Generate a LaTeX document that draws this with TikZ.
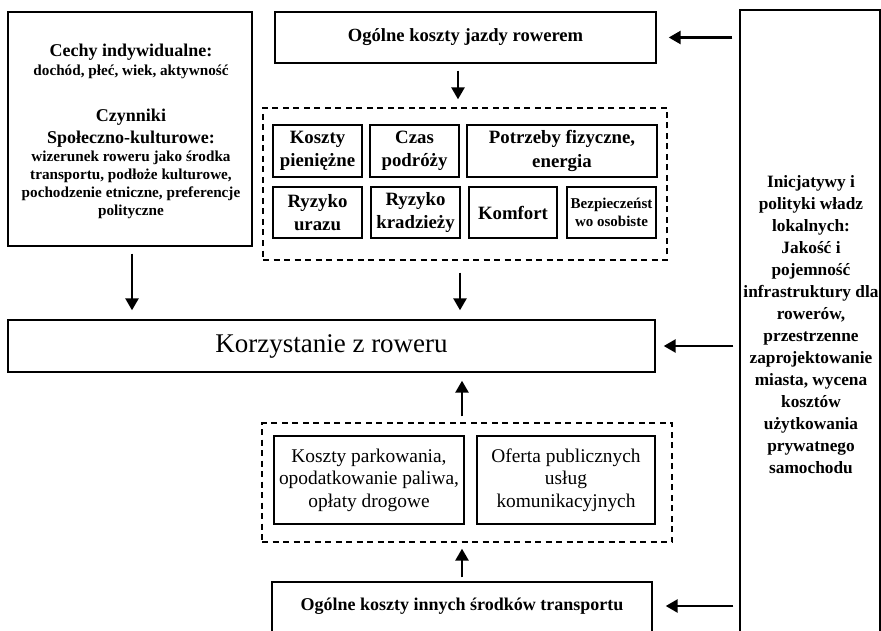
\documentclass[tikz,border=0pt]{standalone}
\usepackage{fontspec}
\setmainfont{Liberation Serif}
\usetikzlibrary{arrows.meta}
\tikzset{
  box/.style={draw=black, line width=1.4pt, rectangle, inner sep=0pt, align=center},
  dbox/.style={draw=black, line width=1.3pt, dash pattern=on 6pt off 4.5pt, rectangle, inner sep=0pt},
  arr/.style={line width=2.6pt, -{Triangle[length=12pt,width=13pt]}},
  fmid/.style={font=\fontsize{18.8}{23.5}\selectfont\bfseries},
  fmidr/.style={font=\fontsize{19.4}{22.5}\selectfont},
  fsmall/.style={font=\fontsize{15.2}{18}\selectfont\bfseries},
  fhead/.style={font=\fontsize{18}{22.5}\selectfont\bfseries},
  txt/.style={inner sep=0pt, align=center},
}
\begin{document}
\begin{tikzpicture}[x=1pt,y=-1pt]
\useasboundingbox (0,0) rectangle (881,631);
\fill[white] (0,0) rectangle (881,631);
% left box
\node[box, minimum width=244pt, minimum height=234pt] (ind) at (130,129) {};
\node[txt, fhead] (indA) at (131,52) {Cechy indywidualne:};
\node[txt, fsmall] (indB) at (131,72) {dochód, płeć, wiek, aktywność};
\node[txt, fhead] (indC) at (131,128) {Czynniki\\Społeczno-kulturowe:};
\node[txt, fsmall] (indD) at (131,185) {wizerunek roweru jako środka\\transportu, podłoże kulturowe,\\pochodzenie etniczne, preferencje\\polityczne};
% top box
\node[box, font=\fontsize{18.6}{22}\selectfont\bfseries, minimum width=381pt, minimum height=51pt] (top) at (465.5,37.5) {Ogólne koszty jazdy rowerem};
% dashed box 1
\node[dbox, minimum width=404pt, minimum height=152pt] (d1) at (465,184) {};
\node[box, fmid, minimum width=89pt, minimum height=52pt] (k1) at (317.5,151) {Koszty\\pieniężne};
\node[box, fmid, minimum width=89pt, minimum height=52pt] (k2) at (414.5,151) {Czas\\podróży};
\node[box, fmid, minimum width=190pt, minimum height=52pt] (k3) at (562,151) {Potrzeby fizyczne,\\energia};
\node[box, fmid, minimum width=89pt, minimum height=51pt] (k4) at (317.5,212.5) {Ryzyko\\urazu};
\node[box, fmid, minimum width=89pt, minimum height=51pt] (k5) at (415.5,212.5) {Ryzyko\\kradzieży};
\node[box, fmid, minimum width=88pt, minimum height=51pt] (k6) at (513,212.5) {Komfort};
\node[box, font=\fontsize{15}{18}\selectfont\bfseries, minimum width=89pt, minimum height=51pt] (k7) at (611.5,212.5) {Bezpieczeńst\\wo osobiste};
% main box
\node[box, font=\fontsize{27}{30}\selectfont, minimum width=647pt, minimum height=52pt] (use) at (331.5,346) {Korzystanie z roweru};
% dashed box 2
\node[dbox, minimum width=410pt, minimum height=119pt] (d2) at (467,482.5) {};
\node[box, fmidr, minimum width=190pt, minimum height=88pt] (pa) at (369,480) {Koszty parkowania,\\opodatkowanie paliwa,\\opłaty drogowe};
\node[box, fmidr, minimum width=178pt, minimum height=88pt] (pb) at (566,480) {Oferta publicznych\\usług\\komunikacyjnych};
% bottom box
\node[box, minimum width=380pt, minimum height=52pt] (bot) at (462,608) {};
\node[txt, font=\fontsize{18}{22}\selectfont\bfseries] (botT) at (462,606) {Ogólne koszty innych środków transportu};
% right box
\node[box, minimum width=140pt, minimum height=640pt] (pol) at (810,330) {};
\node[txt, font=\fontsize{17.3}{22}\selectfont\bfseries] (polT) at (811,325) {Inicjatywy i\\polityki władz\\lokalnych:\\Jakość i\\pojemność\\infrastruktury dla\\rowerów,\\przestrzenne\\zaprojektowanie\\miasta, wycena\\kosztów\\użytkowania\\prywatnego\\samochodu};
% coordinates for arrows
\coordinate (c1) at (458,0);
\coordinate (c2) at (132,0);
\coordinate (c3) at (460,0);
\coordinate (c4) at (462,0);
% arrows
\draw[arr, shorten <=7pt, shorten >=8pt] (top.south -| c1) -- (d1.north -| c1);
\draw[arr, shorten <=7pt, shorten >=9pt] (ind.south -| c2) -- (use.north -| c2);
\draw[arr, shorten <=12pt, shorten >=9pt] (d1.south -| c3) -- (use.north -| c3);
\draw[arr, shorten <=6pt, shorten >=8pt] (d2.north -| c4) -- (use.south -| c4);
\draw[arr, shorten <=4pt, shorten >=6pt] (bot.north -| c4) -- (d2.south -| c4);
\draw[arr, shorten <=7pt, shorten >=12pt] (pol.west |- top.east) -- (top.east);
\draw[arr, shorten <=6pt, shorten >=8pt] (pol.west |- use.east) -- (use.east);
\draw[arr, shorten <=6pt, shorten >=13pt] (pol.west |- botT.east) -- (bot.east |- botT.east);
\end{tikzpicture}
\end{document}
